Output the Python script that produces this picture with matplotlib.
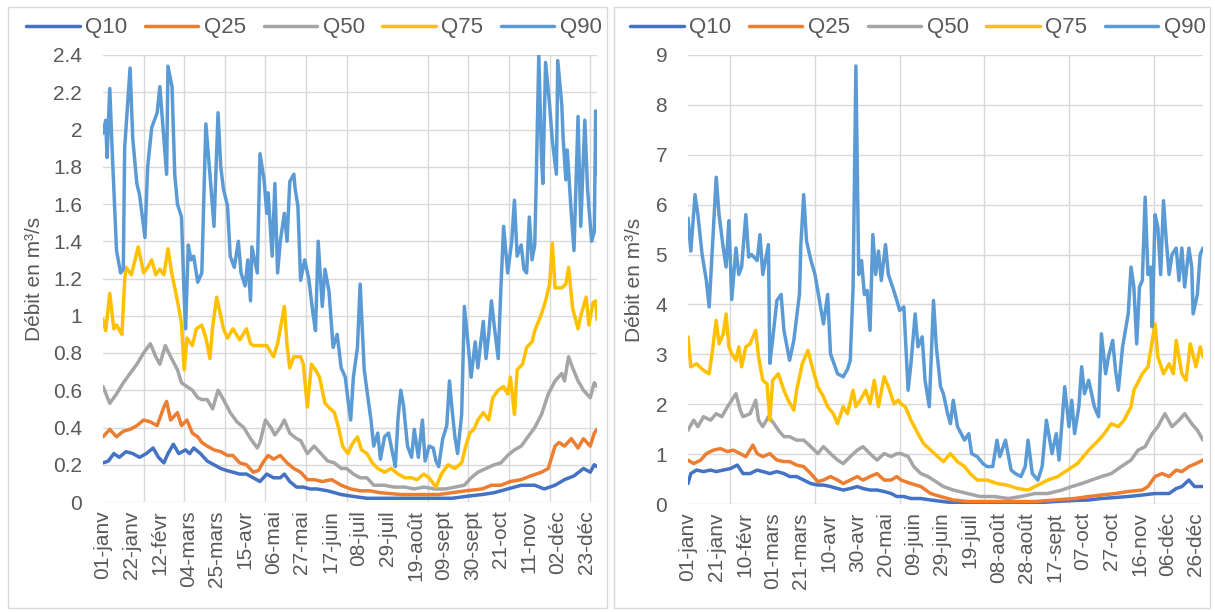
import matplotlib
matplotlib.use('Agg')
import matplotlib.pyplot as plt
from matplotlib.patches import Rectangle
from matplotlib.ticker import FixedLocator, MultipleLocator, FuncFormatter

plt.rcParams['font.family'] = ['Liberation Sans', 'DejaVu Sans']

names = ['Q10', 'Q25', 'Q50', 'Q75', 'Q90']
colors = ['#4472C4', '#ED7D31', '#A5A5A5', '#FFC000', '#5B9BD5']
text_color = '#595959'
grid_color = '#D9D9D9'

# ---- left chart (day of year -> discharge in m3/s)
left_q10_days = [0, 4, 8, 12, 17, 22, 27, 32, 37, 41, 45, 48, 52, 56, 61, 64, 67, 72, 77, 82, 87, 91, 96, 101,
                 106, 111, 116, 121, 126, 131, 134, 138, 143, 148, 153, 158, 166, 176, 185, 195, 220, 240, 258,
                 268, 280, 289, 299, 309, 319, 326, 334, 341, 348, 355, 360, 363, 365]
left_q10 = [0.21, 0.22, 0.26, 0.24, 0.27, 0.26, 0.24, 0.26, 0.29, 0.24, 0.21, 0.26, 0.31, 0.26, 0.28, 0.26, 0.29,
            0.26, 0.22, 0.20, 0.18, 0.17, 0.16, 0.15, 0.15, 0.13, 0.11, 0.15, 0.13, 0.13, 0.15, 0.11, 0.08, 0.08,
            0.07, 0.07, 0.06, 0.04, 0.03, 0.02, 0.02, 0.02, 0.02, 0.03, 0.04, 0.05, 0.07, 0.09, 0.09, 0.07, 0.09,
            0.12, 0.14, 0.18, 0.16, 0.20, 0.19]

left_q25_days = [0, 5, 10, 15, 20, 25, 30, 35, 40, 45, 47, 50, 55, 58, 62, 66, 70, 73, 77, 82, 87, 92, 96, 101,
                 106, 111, 115, 118, 122, 126, 131, 136, 141, 146, 151, 156, 162, 169, 176, 183, 190, 197, 205,
                 220, 234, 248, 258, 268, 280, 287, 294, 301, 309, 316, 324, 329, 334, 337, 341, 346, 351, 355,
                 360, 363, 365]
left_q25 = [0.35, 0.39, 0.35, 0.38, 0.39, 0.41, 0.44, 0.43, 0.41, 0.51, 0.54, 0.44, 0.48, 0.41, 0.44, 0.37, 0.35,
            0.32, 0.30, 0.28, 0.27, 0.25, 0.25, 0.21, 0.20, 0.16, 0.17, 0.21, 0.25, 0.23, 0.25, 0.21, 0.18, 0.16,
            0.12, 0.12, 0.11, 0.12, 0.09, 0.07, 0.06, 0.06, 0.05, 0.04, 0.04, 0.04, 0.05, 0.06, 0.07, 0.09, 0.09,
            0.11, 0.12, 0.14, 0.16, 0.18, 0.30, 0.32, 0.30, 0.34, 0.29, 0.34, 0.30, 0.37, 0.39]

left_q50_days = [0, 5, 10, 15, 20, 25, 30, 35, 39, 42, 46, 50, 55, 58, 62, 66, 70, 73, 77, 81, 85, 89, 94, 99,
                 104, 109, 114, 116, 120, 124, 127, 131, 134, 138, 143, 146, 151, 156, 161, 166, 171, 176, 180,
                 185, 190, 195, 200, 208, 215, 223, 230, 237, 245, 253, 260, 267, 272, 277, 283, 289, 294, 299,
                 304, 309, 314, 319, 324, 329, 334, 339, 341, 344, 347, 351, 355, 360, 363, 365]
left_q50 = [0.62, 0.53, 0.58, 0.64, 0.69, 0.74, 0.80, 0.85, 0.78, 0.74, 0.84, 0.78, 0.71, 0.64, 0.62, 0.60, 0.56,
            0.55, 0.55, 0.50, 0.60, 0.55, 0.48, 0.43, 0.40, 0.34, 0.29, 0.32, 0.44, 0.40, 0.36, 0.40, 0.44, 0.37,
            0.34, 0.33, 0.26, 0.30, 0.26, 0.22, 0.21, 0.18, 0.18, 0.15, 0.13, 0.13, 0.09, 0.09, 0.08, 0.08, 0.07,
            0.08, 0.07, 0.07, 0.08, 0.09, 0.13, 0.16, 0.18, 0.20, 0.21, 0.25, 0.28, 0.30, 0.35, 0.40, 0.47, 0.58,
            0.65, 0.69, 0.65, 0.78, 0.72, 0.65, 0.60, 0.56, 0.64, 0.62]

left_q75_days = [0, 2, 5, 8, 10, 14, 16, 17, 21, 26, 28, 30, 33, 36, 39, 42, 45, 48, 51, 55, 58, 60, 62, 66, 69,
                 73, 76, 79, 81, 84, 87, 89, 92, 96, 101, 106, 109, 111, 116, 121, 126, 129, 134, 136, 138, 141,
                 146, 148, 151, 154, 157, 160, 164, 168, 171, 174, 177, 181, 184, 188, 191, 195, 199, 203, 208,
                 213, 218, 223, 228, 232, 237, 241, 246, 250, 255, 260, 265, 268, 271, 274, 277, 281, 285, 288,
                 292, 296, 299, 301, 304, 306, 310, 313, 317, 319, 324, 327, 330, 332, 334, 339, 342, 344, 347,
                 351, 353, 357, 359, 362, 364, 365]
left_q75 = [0.98, 0.92, 1.12, 0.93, 0.95, 0.90, 1.19, 1.26, 1.22, 1.37, 1.30, 1.23, 1.26, 1.30, 1.22, 1.25, 1.22,
            1.36, 1.22, 1.08, 0.96, 0.71, 0.88, 0.84, 0.93, 0.95, 0.88, 0.77, 0.94, 1.10, 1.00, 0.93, 0.88, 0.93,
            0.87, 0.93, 0.85, 0.84, 0.84, 0.84, 0.78, 0.85, 1.05, 0.84, 0.72, 0.78, 0.78, 0.74, 0.51, 0.74, 0.71,
            0.67, 0.53, 0.50, 0.48, 0.40, 0.30, 0.26, 0.31, 0.35, 0.28, 0.26, 0.21, 0.18, 0.16, 0.18, 0.15, 0.13,
            0.13, 0.12, 0.15, 0.13, 0.08, 0.15, 0.20, 0.18, 0.21, 0.30, 0.37, 0.39, 0.44, 0.48, 0.44, 0.56, 0.60,
            0.62, 0.58, 0.67, 0.47, 0.71, 0.74, 0.83, 0.86, 0.92, 1.01, 1.08, 1.17, 1.39, 1.15, 1.15, 1.17, 1.26,
            1.04, 0.93, 1.00, 1.10, 0.95, 1.07, 1.08, 0.98]

left_q90_days = [0, 2, 3, 5, 7, 10, 13, 15, 16, 20, 22, 25, 27, 30, 31, 33, 36, 40, 42, 45, 47, 48, 51, 53, 55,
                 58, 60, 61, 63, 65, 67, 70, 73, 76, 79, 82, 85, 87, 89, 92, 94, 97, 100, 102, 105, 107, 109, 110,
                 114, 116, 119, 121, 122, 125, 127, 129, 131, 134, 136, 138, 141, 142, 144, 146, 149, 152, 155,
                 157, 159, 162, 164, 167, 170, 173, 176, 179, 181, 183, 185, 188, 190, 193, 195, 198, 200, 203,
                 205, 208, 211, 214, 216, 218, 220, 222, 225, 228, 230, 233, 236, 238, 241, 244, 246, 248, 251,
                 254, 256, 258, 260, 262, 265, 267, 270, 272, 275, 277, 279, 281, 283, 285, 287, 289, 292, 294,
                 296, 299, 302, 304, 306, 309, 311, 313, 315, 317, 319, 320, 322, 324, 325, 327, 330, 332, 335,
                 336, 339, 340, 342, 343, 346, 348, 351, 353, 356, 358, 361, 363, 364, 365]
left_q90 = [1.98, 2.05, 1.85, 2.22, 1.85, 1.35, 1.23, 1.25, 1.90, 2.33, 1.95, 1.71, 1.65, 1.48, 1.42, 1.80, 2.01,
            2.09, 2.23, 1.95, 1.76, 2.34, 2.23, 1.76, 1.60, 1.53, 1.10, 0.93, 1.38, 1.30, 1.32, 1.18, 1.23, 2.03,
            1.76, 1.48, 2.09, 1.80, 1.68, 1.59, 1.32, 1.26, 1.40, 1.23, 1.16, 1.30, 1.08, 1.37, 1.23, 1.87, 1.73,
            1.55, 1.66, 1.32, 1.71, 1.23, 1.40, 1.55, 1.40, 1.72, 1.76, 1.68, 1.59, 1.19, 1.30, 1.20, 1.02, 0.92,
            1.40, 1.05, 1.25, 1.13, 0.83, 0.90, 0.72, 0.67, 0.55, 0.44, 0.67, 0.83, 1.17, 0.71, 0.60, 0.44, 0.30,
            0.37, 0.23, 0.35, 0.37, 0.26, 0.19, 0.45, 0.60, 0.52, 0.30, 0.24, 0.39, 0.24, 0.44, 0.22, 0.30, 0.29,
            0.22, 0.19, 0.34, 0.41, 0.65, 0.49, 0.35, 0.26, 0.47, 1.05, 0.83, 0.67, 0.86, 0.72, 0.85, 0.97, 0.77,
            0.90, 1.08, 0.95, 0.77, 1.15, 1.48, 1.23, 1.40, 1.62, 1.32, 1.38, 1.25, 1.23, 1.53, 1.30, 1.38, 1.69,
            2.40, 1.85, 1.71, 2.36, 2.13, 1.94, 1.76, 2.37, 2.13, 1.95, 1.73, 1.89, 1.55, 1.35, 2.07, 1.48, 2.05,
            1.68, 1.40, 1.45, 2.10, 1.76]

left_tick_labels = ['01-janv', '22-janv', '12-févr', '04-mars', '25-mars', '15-avr', '06-mai', '27-mai',
                    '17-juin', '08-juil', '29-juil', '19-août', '09-sept', '30-sept', '21-oct', '11-nov',
                    '02-déc', '23-déc']

# ---- right chart
right_q10_days = [0, 2, 6, 11, 16, 20, 25, 30, 35, 39, 44, 49, 53, 58, 63, 68, 72, 77, 82, 87, 92, 96, 101, 106,
                  110, 115, 120, 124, 129, 134, 139, 144, 148, 153, 158, 165, 172, 186, 200, 222, 246, 260, 274,
                  284, 293, 303, 312, 322, 331, 341, 346, 350, 355, 359, 365]
right_q10 = [0.41, 0.61, 0.68, 0.65, 0.68, 0.65, 0.68, 0.71, 0.78, 0.61, 0.61, 0.68, 0.65, 0.61, 0.65, 0.61,
             0.55, 0.55, 0.48, 0.41, 0.38, 0.38, 0.35, 0.31, 0.28, 0.31, 0.35, 0.31, 0.28, 0.28, 0.25, 0.21,
             0.15, 0.15, 0.11, 0.11, 0.08, 0.03, 0.02, 0.01, 0.02, 0.05, 0.07, 0.08, 0.11, 0.13, 0.15, 0.18,
             0.21, 0.21, 0.31, 0.35, 0.48, 0.35, 0.35]

right_q25_days = [0, 4, 9, 13, 18, 23, 28, 32, 37, 41, 46, 49, 53, 58, 63, 68, 72, 77, 82, 87, 92, 96, 101, 106,
                  110, 115, 120, 124, 129, 134, 139, 144, 148, 151, 158, 165, 172, 179, 188, 198, 222, 246, 260,
                  274, 284, 293, 303, 312, 322, 326, 331, 336, 341, 346, 350, 355, 360, 365]
right_q25 = [0.88, 0.81, 0.88, 1.01, 1.08, 1.11, 1.05, 1.08, 1.01, 0.95, 1.18, 1.01, 0.95, 1.01, 0.88, 0.85,
             0.85, 0.78, 0.75, 0.61, 0.45, 0.48, 0.55, 0.48, 0.41, 0.48, 0.55, 0.48, 0.55, 0.61, 0.48, 0.48,
             0.55, 0.48, 0.41, 0.35, 0.21, 0.15, 0.08, 0.05, 0.05, 0.05, 0.08, 0.11, 0.15, 0.18, 0.21, 0.25,
             0.28, 0.35, 0.55, 0.61, 0.55, 0.68, 0.65, 0.75, 0.81, 0.88]

right_q50_days = [0, 4, 7, 11, 16, 20, 24, 28, 31, 34, 37, 39, 44, 48, 50, 53, 57, 61, 64, 68, 72, 77, 82, 87,
                  92, 96, 101, 106, 110, 115, 120, 124, 129, 134, 139, 144, 148, 151, 156, 160, 165, 170, 174,
                  181, 188, 198, 207, 217, 227, 236, 246, 255, 265, 272, 279, 286, 293, 300, 307, 314, 319, 324,
                  329, 333, 338, 343, 348, 352, 357, 361, 365]
right_q50 = [1.48, 1.68, 1.55, 1.75, 1.68, 1.81, 1.75, 1.95, 2.08, 2.21, 1.88, 1.75, 1.81, 2.08, 1.68, 1.55,
             1.75, 1.61, 1.48, 1.35, 1.35, 1.28, 1.28, 1.15, 1.01, 1.15, 1.01, 0.88, 0.81, 0.95, 1.08, 1.15,
             1.01, 0.88, 1.01, 0.95, 1.01, 1.01, 0.95, 0.75, 0.61, 0.55, 0.48, 0.35, 0.28, 0.21, 0.15, 0.15,
             0.11, 0.15, 0.21, 0.21, 0.28, 0.35, 0.41, 0.48, 0.55, 0.61, 0.75, 0.88, 1.08, 1.15, 1.41, 1.55,
             1.81, 1.55, 1.68, 1.81, 1.61, 1.48, 1.28]

right_q75_days = [0, 2, 6, 11, 15, 17, 20, 22, 25, 27, 29, 31, 34, 36, 38, 41, 44, 48, 50, 53, 56, 58, 60, 64,
                  68, 71, 75, 77, 81, 85, 88, 92, 96, 99, 103, 106, 110, 113, 117, 119, 122, 126, 129, 132, 135,
                  139, 142, 146, 149, 151, 154, 158, 163, 167, 172, 177, 181, 186, 191, 196, 200, 205, 212, 219,
                  226, 234, 241, 248, 255, 262, 269, 276, 284, 291, 295, 300, 305, 309, 314, 316, 322, 326, 331,
                  333, 337, 341, 344, 346, 350, 353, 356, 360, 363, 365]
right_q75 = [3.35, 2.75, 2.81, 2.68, 2.61, 3.01, 3.68, 3.21, 3.41, 3.81, 3.15, 3.01, 2.88, 3.15, 2.75, 3.15,
             3.21, 3.48, 2.95, 2.48, 2.41, 1.68, 2.48, 2.61, 2.28, 2.08, 1.88, 2.28, 2.81, 3.08, 2.75, 2.35,
             2.15, 1.95, 1.81, 1.61, 1.95, 1.81, 2.28, 1.95, 2.08, 2.28, 2.01, 2.48, 1.95, 2.55, 2.35, 2.01,
             2.08, 2.01, 1.95, 1.68, 1.41, 1.21, 1.08, 0.95, 0.85, 1.01, 0.85, 0.75, 0.61, 0.48, 0.48, 0.41,
             0.38, 0.31, 0.28, 0.38, 0.48, 0.55, 0.68, 0.81, 1.08, 1.28, 1.41, 1.61, 1.55, 1.68, 1.95, 2.28,
             2.61, 2.75, 3.61, 2.95, 2.61, 2.81, 2.61, 3.28, 2.61, 2.48, 3.21, 2.75, 3.15, 2.95]

right_q90_days = [0, 2, 5, 7, 10, 13, 15, 18, 20, 22, 25, 27, 29, 31, 34, 36, 38, 41, 43, 45, 49, 51, 53, 57,
                  58, 60, 63, 66, 68, 72, 75, 79, 80, 82, 84, 87, 90, 93, 96, 99, 101, 106, 110, 113, 115, 117,
                  119, 121, 123, 125, 127, 129, 131, 133, 135, 137, 140, 142, 145, 148, 150, 153, 156, 158, 161,
                  163, 166, 168, 171, 174, 176, 179, 181, 184, 186, 188, 191, 196, 199, 201, 205, 209, 212, 216,
                  219, 221, 225, 229, 232, 236, 239, 241, 244, 248, 251, 254, 258, 261, 263, 267, 270, 272, 274,
                  277, 279, 281, 284, 288, 291, 293, 296, 298, 301, 303, 305, 308, 312, 314, 316, 318, 320, 322,
                  324, 326, 328, 329, 331, 333, 335, 337, 339, 341, 343, 346, 348, 350, 352, 355, 357, 358, 361,
                  363, 365]
right_q90 = [5.73, 5.07, 6.20, 5.80, 5.00, 4.48, 3.95, 5.50, 6.55, 5.80, 5.13, 4.75, 5.68, 4.10, 5.13, 4.60,
             4.75, 5.80, 4.95, 5.00, 4.88, 5.40, 4.60, 5.20, 2.82, 3.30, 4.08, 4.20, 3.48, 2.88, 3.28, 4.21,
             5.20, 6.20, 5.27, 4.90, 4.60, 4.10, 3.61, 4.20, 3.01, 2.61, 2.55, 2.70, 2.88, 4.35, 8.78, 4.60,
             4.88, 4.20, 4.28, 3.48, 5.40, 4.60, 5.07, 4.48, 5.20, 4.60, 4.35, 4.08, 3.88, 3.95, 2.28, 2.81,
             3.81, 3.15, 3.35, 2.48, 1.95, 4.08, 3.15, 2.35, 2.21, 1.81, 1.61, 2.08, 1.55, 1.28, 1.41, 1.01,
             0.95, 0.81, 0.75, 0.75, 1.28, 0.95, 1.28, 0.68, 0.61, 0.55, 0.75, 1.28, 0.61, 0.48, 0.75, 1.68,
             1.01, 1.41, 0.88, 2.35, 1.55, 2.08, 1.41, 1.95, 2.75, 2.21, 2.48, 1.95, 1.75, 3.41, 2.61, 2.95,
             3.28, 2.68, 2.28, 3.15, 3.81, 4.75, 4.35, 3.21, 4.35, 4.48, 6.15, 4.60, 4.75, 3.55, 5.80, 5.55,
             4.60, 6.08, 5.27, 4.60, 5.00, 5.13, 4.48, 5.13, 4.35, 5.13, 4.75, 3.81, 4.20, 5.00, 5.13]

right_tick_labels = ['01-janv', '21-janv', '10-févr', '01-mars', '21-mars', '10-avr', '30-avr', '20-mai',
                     '09-juin', '29-juin', '19-juil', '08-août', '28-août', '17-sept', '07-oct', '27-oct',
                     '16-nov', '06-déc', '26-déc']


# draw one quantile chart in the Excel look
def plot_quantiles(ax, series, tick_step, tick_labels, ymax, ystep, ylabel_x, legend_x, fig=None):
    for (days, values), name, c in zip(series, names, colors):
        ax.plot(days, values, color=c, lw=2.5, label=name,
                solid_joinstyle='round', solid_capstyle='round')

    ax.set_xlim(0, 365)
    ax.set_ylim(0, ymax)

    # labels every n days, grid every 30 days
    ax.xaxis.set_major_locator(FixedLocator([i * tick_step for i in range(len(tick_labels))]))
    ax.set_xticklabels(tick_labels, rotation=90, va='top', ha='center')
    ax.xaxis.set_minor_locator(MultipleLocator(30))
    ax.yaxis.set_major_locator(MultipleLocator(ystep))
    ax.yaxis.set_major_formatter(FuncFormatter(lambda v, p: '{:g}'.format(round(v, 1))))

    ax.tick_params(axis='x', which='both', length=0, pad=6, labelsize=15, labelcolor=text_color)
    ax.tick_params(axis='y', length=0, pad=15, labelsize=15, labelcolor=text_color)
    ax.grid(axis='x', which='minor', color=grid_color, lw=1.0)
    ax.grid(axis='y', which='major', color=grid_color, lw=1.0)
    ax.set_axisbelow(True)
    for s in ax.spines.values():
        s.set_visible(False)

    ax.set_ylabel('Débit en m³/s', fontsize=15, color=text_color)
    ax.yaxis.set_label_coords(ylabel_x, 0.5)

    ax.legend(loc='center', bbox_to_anchor=(legend_x, 1 - 28 / 612), bbox_transform=fig.transFigure,
              ncol=5, frameon=False, fontsize=16, labelcolor=text_color,
              handlelength=2.4, handletextpad=0.25, columnspacing=0.8)


fig = plt.figure(figsize=(12.15, 6.12), dpi=100)
ax1 = fig.add_axes([103 / 1215, 1 - 502 / 612, 494 / 1215, 447 / 612])
ax2 = fig.add_axes([688 / 1215, 1 - 504 / 612, 515 / 1215, 449 / 612])

# panel frames
for x0, x1 in [(8, 607), (614, 1210)]:
    fig.add_artist(Rectangle((x0 / 1215, 1 - 608 / 612), (x1 - x0) / 1215, 601 / 612,
                             transform=fig.transFigure, fill=False, edgecolor=grid_color, lw=1.0))

plot_quantiles(ax1,
               [(left_q10_days, left_q10), (left_q25_days, left_q25), (left_q50_days, left_q50),
                (left_q75_days, left_q75), (left_q90_days, left_q90)],
               21, left_tick_labels, 2.4, 0.2, -0.12, 314 / 1215, fig=fig)
plot_quantiles(ax2,
               [(right_q10_days, right_q10), (right_q25_days, right_q25), (right_q50_days, right_q50),
                (right_q75_days, right_q75), (right_q90_days, right_q90)],
               20, right_tick_labels, 9, 1, -0.085, 918 / 1215, fig=fig)

fig.savefig('out.png', dpi=100)
